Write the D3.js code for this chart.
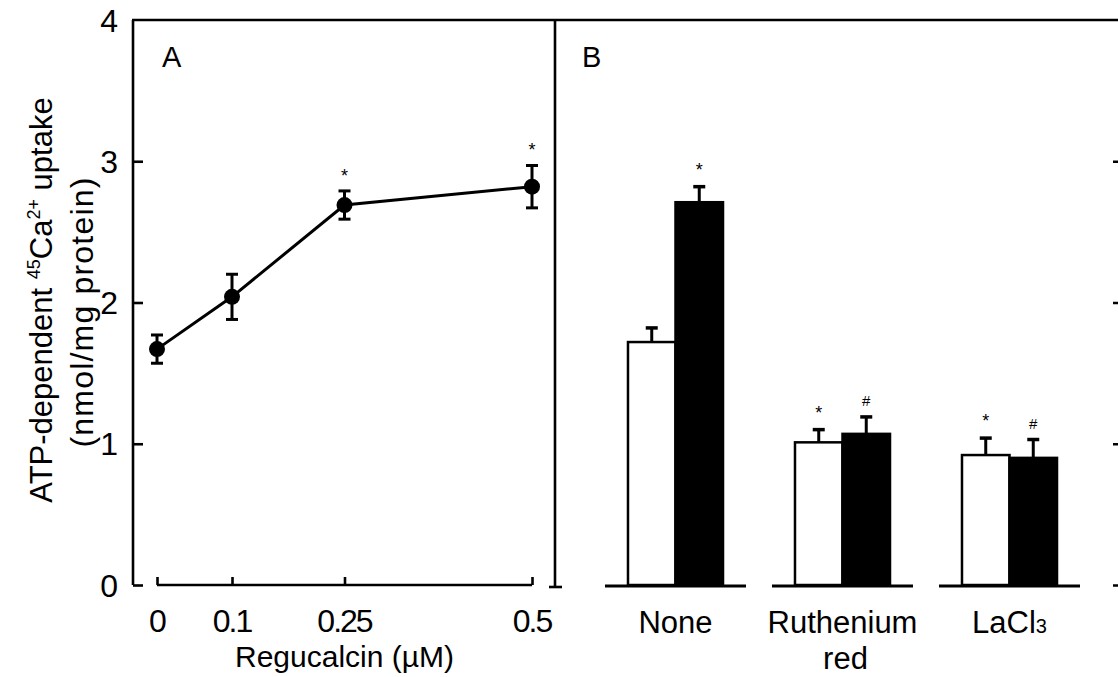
<!DOCTYPE html>
<html><head><meta charset="utf-8">
<script src="https://cdn.jsdelivr.net/npm/d3@7"></script>
<style>
html,body{margin:0;padding:0;background:#fff;}
svg{display:block;}
text{font-family:"Liberation Sans",Arial,sans-serif;fill:#000;}
</style></head>
<body>
<svg id="chart" width="1118" height="677"></svg>
<script>
// ---- data ----
const yTicks = [0, 1, 2, 3, 4];
const doses = [0, 0.1, 0.25, 0.5];
const doseLabels = ["0", "0.1", "0.25", "0.5"];
const uptakeA = [1.67, 2.04, 2.69, 2.82];
const seA = [0.10, 0.16, 0.10, 0.15];
const sigA = ["", "", "*", "*"];

const categories = ["None", "Ruthenium red", "LaCl3"];
const series = ["control", "regucalcin"];
const controlVals = [1.72, 1.01, 0.92];
const controlSE = [0.10, 0.09, 0.12];
const regucalcinVals = [2.71, 1.07, 0.90];
const regucalcinSE = [0.11, 0.12, 0.13];
const sigControl = ["", "*", "*"];
const sigRegucalcin = ["*", "#", "#"];

const svg = d3.select("#chart");
const y = d3.scaleLinear().domain([0, 4]).range([585, 20]);
const xA = d3.scaleLinear().domain([0, 0.5]).range([157, 532]);
const xB = d3.scaleBand().domain(categories).range([592, 1093]).paddingInner(0.431).paddingOuter(0.2155);
const xS = d3.scaleBand().domain(series).range([0, xB.bandwidth()]);

const SW = 2.6;
// frame top line
svg.append("line").attr("x1", 132).attr("x2", 1118).attr("y1", y(4)).attr("y2", y(4))
  .attr("stroke", "#000").attr("stroke-width", SW);

// Panel A left axis (ticks inward)
const axL = svg.append("g").attr("transform", "translate(133,0)")
  .call(d3.axisRight(y).tickValues(yTicks.slice(0, 4)).tickSize(10).tickFormat(""));
axL.select(".domain").attr("d", `M0,${y(4)}V${y(0)}`).attr("stroke-width", SW);
axL.selectAll(".tick line").attr("stroke-width", SW);
// y tick labels
svg.append("g").selectAll("text").data(yTicks).join("text")
  .attr("x", 118).attr("y", d => y(d)).attr("dy", "0.36em")
  .attr("text-anchor", "end").attr("font-size", 32).text(d => d);

// Panel A x axis (ticks up, separate from y-axis)
const axA = svg.append("g").attr("transform", `translate(0,${y(0)})`)
  .call(d3.axisTop(xA).tickValues(doses).tickSize(8).tickFormat(""));
axA.select(".domain").attr("d", `M${xA(0)},0H${xA(0.5)}`).attr("stroke-width", SW);
axA.selectAll(".tick line").attr("stroke-width", SW);
svg.append("g").selectAll("text").data(doses).join("text")
  .attr("x", d => xA(d)).attr("y", 632).attr("text-anchor", "middle")
  .attr("font-size", 32).attr("letter-spacing", "-2")
  .text((d, i) => doseLabels[i]);
svg.append("text").attr("x", xA(0.25)).attr("y", 667).attr("text-anchor", "middle")
  .attr("font-size", 30).text("Regucalcin (\u00B5M)");

// Panel A line + points
const ptsA = doses.map((d, i) => ({ d, v: uptakeA[i], se: seA[i], s: sigA[i] }));
svg.append("path").datum(ptsA)
  .attr("d", d3.line().x(p => xA(p.d)).y(p => y(p.v)))
  .attr("fill", "none").attr("stroke", "#000").attr("stroke-width", 3);
const eA = svg.append("g").selectAll("g").data(ptsA).join("g");
eA.append("line").attr("x1", p => xA(p.d)).attr("x2", p => xA(p.d))
  .attr("y1", p => y(p.v + p.se)).attr("y2", p => y(p.v - p.se))
  .attr("stroke", "#000").attr("stroke-width", 3);
eA.append("line").attr("x1", p => xA(p.d) - 6).attr("x2", p => xA(p.d) + 6)
  .attr("y1", p => y(p.v + p.se)).attr("y2", p => y(p.v + p.se))
  .attr("stroke", "#000").attr("stroke-width", 3);
eA.append("line").attr("x1", p => xA(p.d) - 6).attr("x2", p => xA(p.d) + 6)
  .attr("y1", p => y(p.v - p.se)).attr("y2", p => y(p.v - p.se))
  .attr("stroke", "#000").attr("stroke-width", 3);
eA.append("circle").attr("cx", p => xA(p.d)).attr("cy", p => y(p.v)).attr("r", 8).attr("fill", "#000");
eA.append("text").attr("x", p => xA(p.d)).attr("y", p => y(p.v + p.se) - 9)
  .attr("text-anchor", "middle").attr("font-size", 18).text(p => p.s);

svg.append("text").attr("x", 162).attr("y", 67).attr("font-size", 29).text("A");
svg.append("text").attr("x", 582).attr("y", 67).attr("font-size", 29).text("B");

// Panel divider / B left axis
const divX = 555;
svg.append("line").attr("x1", divX).attr("x2", divX).attr("y1", y(4)).attr("y2", y(0) + 2)
  .attr("stroke", "#000").attr("stroke-width", SW);
svg.append("line").attr("x1", divX - 6).attr("x2", divX + 7).attr("y1", y(0) + 2).attr("y2", y(0) + 2)
  .attr("stroke", "#000").attr("stroke-width", SW);

// Right side partial ticks
const axR = svg.append("g").attr("transform", "translate(1118,0)")
  .call(d3.axisLeft(y).tickValues(yTicks.slice(0, 4)).tickSize(5).tickFormat(""));
axR.select(".domain").remove();
axR.selectAll(".tick line").attr("stroke-width", 2.5);

// Panel B bars
const barData = [];
categories.forEach((c, i) => {
  barData.push({ c, s: "control", v: controlVals[i], se: controlSE[i], sig: sigControl[i] });
  barData.push({ c, s: "regucalcin", v: regucalcinVals[i], se: regucalcinSE[i], sig: sigRegucalcin[i] });
});
const gB = svg.append("g");
gB.selectAll("line.base").data(categories).join("line").attr("class", "base")
  .attr("x1", c => xB(c) - 23).attr("x2", c => xB(c) + xB.bandwidth() + 23)
  .attr("y1", y(0) + 1).attr("y2", y(0) + 1).attr("stroke", "#000").attr("stroke-width", 3);
const bx = d => xB(d.c) + xS(d.s);
gB.selectAll("rect").data(barData).join("rect")
  .attr("x", bx).attr("y", d => y(d.v)).attr("width", xS.bandwidth())
  .attr("height", d => y(0) - y(d.v))
  .attr("fill", d => d.s === "control" ? "#fff" : "#000")
  .attr("stroke", "#000").attr("stroke-width", 2.5);
gB.selectAll("line.err").data(barData).join("line").attr("class", "err")
  .attr("x1", d => bx(d) + xS.bandwidth() / 2).attr("x2", d => bx(d) + xS.bandwidth() / 2)
  .attr("y1", d => y(d.v)).attr("y2", d => y(d.v + d.se))
  .attr("stroke", "#000").attr("stroke-width", 3);
gB.selectAll("line.cap").data(barData).join("line").attr("class", "cap")
  .attr("x1", d => bx(d) + xS.bandwidth() / 2 - 6).attr("x2", d => bx(d) + xS.bandwidth() / 2 + 6)
  .attr("y1", d => y(d.v + d.se)).attr("y2", d => y(d.v + d.se))
  .attr("stroke", "#000").attr("stroke-width", 3.5);
gB.selectAll("text.sig").data(barData).join("text").attr("class", "sig")
  .attr("x", d => bx(d) + xS.bandwidth() / 2).attr("y", d => y(d.v + d.se) - 11)
  .attr("text-anchor", "middle").attr("font-size", d => d.sig === "#" ? 15 : 18).text(d => d.sig);

// category labels
const catG = svg.append("g");
const cx = c => xB(c) + xB.bandwidth() / 2;
catG.append("text").attr("x", cx("None")).attr("y", 633)
  .attr("text-anchor", "middle").attr("font-size", 31).text("None");
catG.append("text").attr("x", cx("Ruthenium red")).attr("y", 633)
  .attr("text-anchor", "middle").attr("font-size", 31).text("Ruthenium");
catG.append("text").attr("x", cx("Ruthenium red") + 3).attr("y", 669)
  .attr("text-anchor", "middle").attr("font-size", 31).text("red");
const la = catG.append("text").attr("x", cx("LaCl3")).attr("y", 633)
  .attr("text-anchor", "middle").attr("font-size", 31);
la.append("tspan").text("LaCl");
la.append("tspan").attr("font-size", 20).text("3");

// y-axis title
const t1 = svg.append("text").attr("transform", "translate(52,300) rotate(-90)")
  .attr("text-anchor", "middle").attr("font-size", 31);
t1.append("tspan").text("ATP-dependent ");
t1.append("tspan").attr("font-size", 18).attr("dy", -12).text("45");
t1.append("tspan").attr("dy", 12).text("Ca");
t1.append("tspan").attr("font-size", 18).attr("dy", -12).text("2+");
t1.append("tspan").attr("dy", 12).text(" uptake");
svg.append("text").attr("transform", "translate(93,312) rotate(-90)")
  .attr("text-anchor", "middle").attr("font-size", 32).attr("letter-spacing", "1.2")
  .text("(nmol/mg protein)");
</script>
</body></html>
